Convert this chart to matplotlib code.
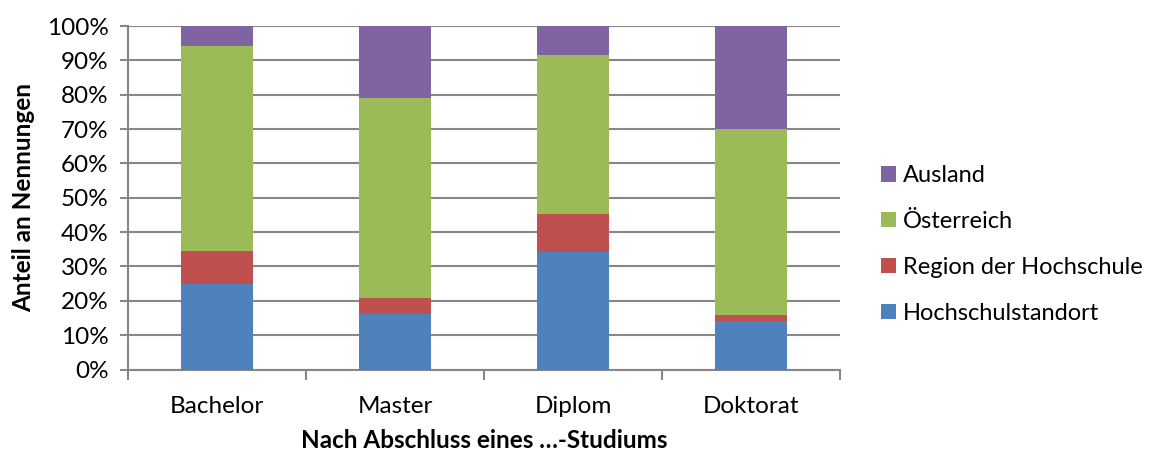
import matplotlib.pyplot as plt
import numpy as np

# Daten (Anteile in %)
kategorien = ["Bachelor", "Master", "Diplom", "Doktorat"]
hochschulstandort = [24.8, 16.2, 34.1, 14.0]
region_hochschule = [9.6, 4.7, 11.1, 2.0]
oesterreich = [59.8, 58.2, 46.4, 54.0]
ausland = [5.8, 20.9, 8.4, 30.0]

serien = ["Hochschulstandort", "Region der Hochschule", "Österreich", "Ausland"]
farben = ["#4F81BD", "#C0504D", "#9BBB59", "#8064A2"]

plt.rcParams['font.family'] = ['Lato', 'DejaVu Sans']
FS = 17.5

fig = plt.figure(figsize=(11.61, 4.54), dpi=100)
ax = fig.add_axes([0.1102, 0.1861, 0.6133, 0.7566])

x = np.arange(len(kategorien))
werte = [hochschulstandort, region_hochschule, oesterreich, ausland]
unten = np.zeros(len(kategorien))
balken = []
for name, w, f in zip(serien, werte, farben):
    b = ax.bar(x, w, width=0.4, bottom=unten, color=f, label=name, zorder=3)
    balken.append(b)
    unten += np.array(w)

ax.set_xlim(-0.5, len(kategorien) - 0.5)
ax.set_ylim(0, 100)
ax.set_yticks(np.arange(0, 101, 10))
ax.set_yticklabels([f"{v}%" for v in range(0, 101, 10)], fontsize=FS)
ax.yaxis.grid(True, color="#878787", linewidth=1.5, zorder=0)

ax.set_xticks(x)
ax.set_xticklabels(kategorien, fontsize=FS)
ax.tick_params(axis='x', which='major', length=0, pad=19)
ax.set_xticks(np.arange(-0.5, len(kategorien)), minor=True)
ax.tick_params(axis='x', which='minor', length=7, width=1.5, color="#878787", direction='out')
ax.tick_params(axis='y', length=6, width=1.5, color="#878787", direction='out', pad=8)

for s in ["top", "right"]:
    ax.spines[s].set_visible(False)
for s in ["left", "bottom"]:
    ax.spines[s].set_color("#878787")
    ax.spines[s].set_linewidth(1.5)

ax.set_ylabel("Anteil an Nennungen", fontsize=FS, fontweight='bold', labelpad=8)
ax.set_xlabel("Nach Abschluss eines …-Studiums", fontsize=FS, fontweight='bold', labelpad=9)

handles = balken[::-1]
labels = serien[::-1]
fig.legend(handles, labels, loc='center left', bbox_to_anchor=(0.7405, 0.4615),
           frameon=False, fontsize=17, handlelength=0.62, handleheight=0.62,
           handletextpad=0.3, labelspacing=1.05)

fig.savefig("out.png", dpi=100)
